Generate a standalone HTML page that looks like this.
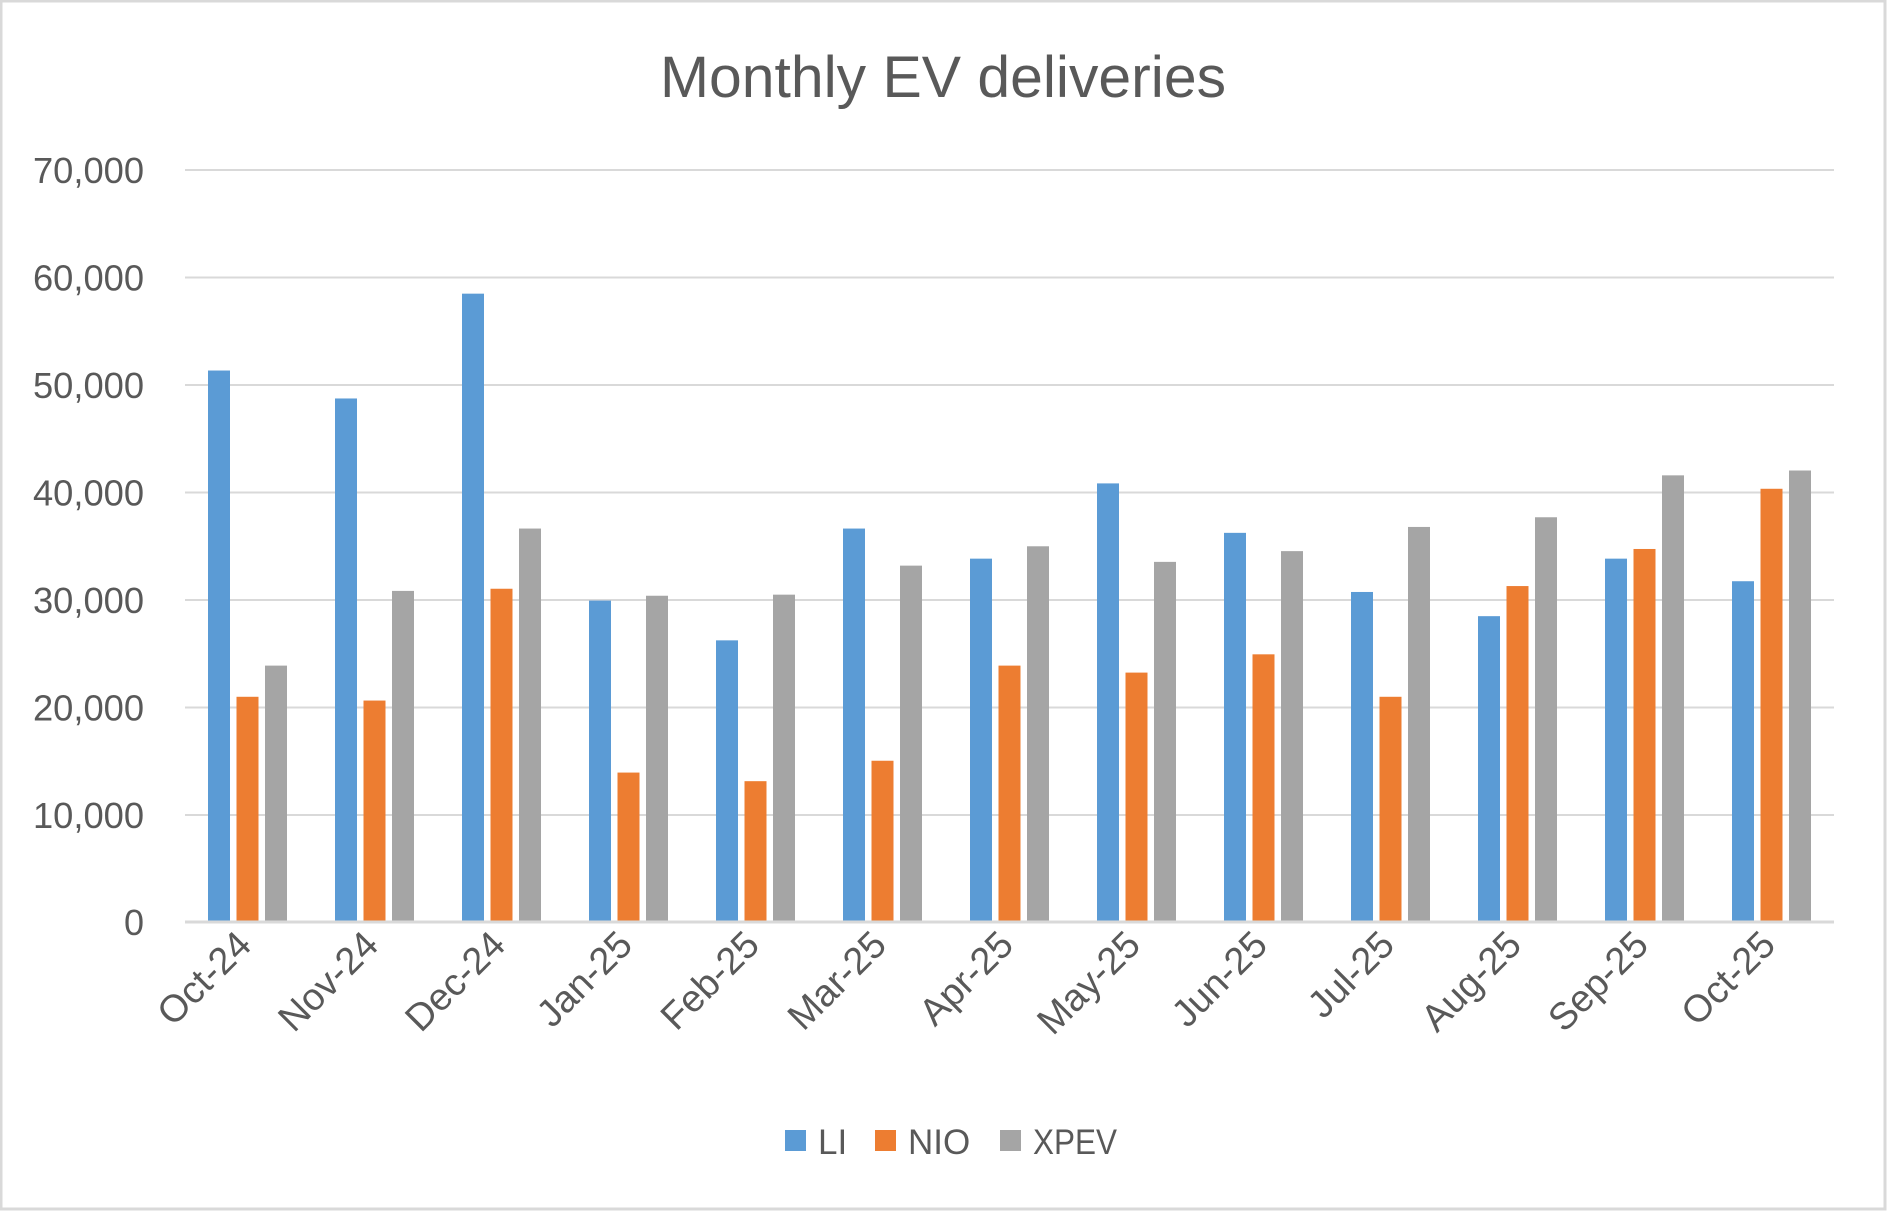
<!DOCTYPE html>
<html><head><meta charset="utf-8"><style>html,body{margin:0;padding:0;background:#fff}svg{display:block}</style></head>
<body>
<svg width="1887" height="1211" xmlns="http://www.w3.org/2000/svg" font-family="'Liberation Sans', sans-serif" fill="#595959">
<rect x="1" y="1" width="1884" height="1208" fill="#fff" stroke="#d9d9d9" stroke-width="3"/>
<text x="943" y="97" font-size="58" text-anchor="middle" textLength="566" lengthAdjust="spacingAndGlyphs">Monthly EV deliveries</text>
<g stroke="#d9d9d9" stroke-width="2">
<line x1="185" y1="170" x2="1834" y2="170"/>
<line x1="185" y1="277.5" x2="1834" y2="277.5"/>
<line x1="185" y1="385" x2="1834" y2="385"/>
<line x1="185" y1="492.5" x2="1834" y2="492.5"/>
<line x1="185" y1="600" x2="1834" y2="600"/>
<line x1="185" y1="707.5" x2="1834" y2="707.5"/>
<line x1="185" y1="815" x2="1834" y2="815"/>
</g>
<g font-size="36" text-anchor="end">
<text x="144" y="183" textLength="111" lengthAdjust="spacingAndGlyphs">70,000</text>
<text x="144" y="290.5" textLength="111" lengthAdjust="spacingAndGlyphs">60,000</text>
<text x="144" y="398" textLength="111" lengthAdjust="spacingAndGlyphs">50,000</text>
<text x="144" y="505.5" textLength="111" lengthAdjust="spacingAndGlyphs">40,000</text>
<text x="144" y="613" textLength="111" lengthAdjust="spacingAndGlyphs">30,000</text>
<text x="144" y="720.5" textLength="111" lengthAdjust="spacingAndGlyphs">20,000</text>
<text x="144" y="828" textLength="111" lengthAdjust="spacingAndGlyphs">10,000</text>
<text x="144" y="935">0</text>
</g>
<g id="bars"></g>
<line x1="185" y1="922" x2="1834" y2="922" stroke="#d9d9d9" stroke-width="3"/>
<g id="xl" font-size="38" text-anchor="end"></g>
<rect x="785" y="1130" width="21" height="21" fill="#5b9bd5"/>
<text x="818" y="1154" font-size="35">LI</text>
<rect x="875" y="1130" width="21" height="21" fill="#ed7d31"/>
<text x="908" y="1154" font-size="35">NIO</text>
<rect x="1000" y="1130" width="21" height="21" fill="#a5a5a5"/>
<text x="1033" y="1154" font-size="35" textLength="84" lengthAdjust="spacingAndGlyphs">XPEV</text>
<script>
var d=[["Oct-24",51300,20950,23850],["Nov-24",48700,20600,30800],["Dec-24",58450,31000,36600],["Jan-25",29900,13900,30350],["Feb-25",26200,13100,30450],["Mar-25",36600,15000,33150],["Apr-25",33800,23850,34950],["May-25",40800,23200,33500],["Jun-25",36200,24900,34500],["Jul-25",30700,20950,36750],["Aug-25",28450,31250,37650],["Sep-25",33800,34700,41550],["Oct-25",31700,40300,42000]];
var c=["#5b9bd5","#ed7d31","#a5a5a5"],ns="http://www.w3.org/2000/svg",b=document.getElementById("bars"),xl=document.getElementById("xl");
d.forEach(function(r,i){var x0=208+127*i;for(var k=0;k<3;k++){var h=r[k+1]*0.01075;var e=document.createElementNS(ns,"rect");e.setAttribute("x",x0+28.5*k);e.setAttribute("y",922-h);e.setAttribute("width",22);e.setAttribute("height",h);e.setAttribute("fill",c[k]);b.appendChild(e);}
var cx=x0+39.5;var t=document.createElementNS(ns,"text");t.setAttribute("transform","translate("+(cx+6)+",947) rotate(-45)");t.textContent=r[0];xl.appendChild(t);});
</script>
</svg>
</body></html>
